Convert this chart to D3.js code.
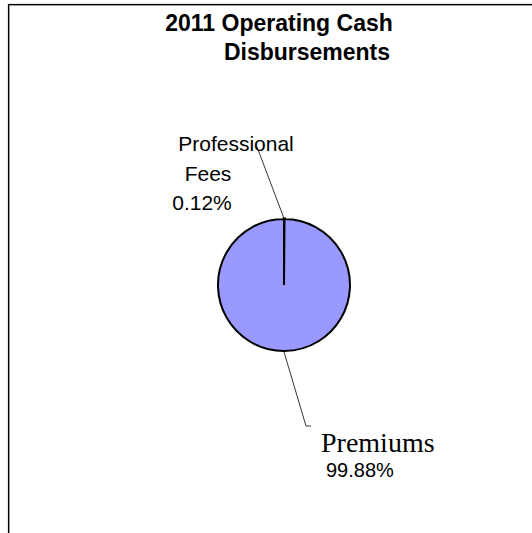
<!DOCTYPE html>
<html>
<head>
<meta charset="utf-8">
<script src="https://cdn.jsdelivr.net/npm/d3@7.9.0/dist/d3.min.js"></script>
<style>
  html, body { margin: 0; padding: 0; background: #fff; }
  svg { display: block; }
</style>
</head>
<body>
<svg id="chart" width="532" height="533"></svg>
<script>
// data
const titleLines = ['2011 Operating Cash', 'Disbursements'];
const categories = ['Professional Fees', 'Premiums'];
const shares = [0.12, 99.88];
const shareLabels = ['0.12%', '99.88%'];

const svg = d3.select('#chart');
const cx = 284, cy = 285, radius = 66;

// frame (only top and left edges show)
svg.append('rect').attr('x', 8.5).attr('y', 4.5).attr('width', 700).attr('height', 700)
  .attr('fill', 'none').attr('stroke', '#000').attr('stroke-width', 1.2);
svg.append('rect').attr('x', 9.5).attr('y', 5.5).attr('width', 700).attr('height', 700)
  .attr('fill', 'none').attr('stroke', '#999').attr('stroke-width', 1);

// title, each line centred on its own
const titleX = [279, 307];
titleLines.forEach((t, i) => {
  svg.append('text')
    .attr('x', titleX[i]).attr('y', 31 + i * 29)
    .attr('text-anchor', 'middle')
    .attr('font-family', 'Liberation Sans, Arial, sans-serif')
    .attr('font-weight', 'bold').attr('font-size', 23)
    .text(t);
});

const pie = d3.pie().sort(null).value((d) => d.value);
const arcs = pie(categories.map((c, i) => ({ label: c, value: shares[i] })));
const arc = d3.arc().innerRadius(0).outerRadius(radius);
const edge = d3.arc().innerRadius(radius).outerRadius(radius);

const g = svg.append('g').attr('transform', `translate(${cx},${cy})`);
g.selectAll('path.slice')
  .data(arcs)
  .join('path')
  .attr('class', 'slice')
  .attr('d', arc)
  .attr('fill', '#9999ff')
  .attr('stroke', '#000')
  .attr('stroke-width', (d, i) => i === 0 ? 3 : 2)
  .attr('stroke-linejoin', 'miter');

// leader lines: from the pie edge to the label
const leaderEnds = [[-27, -138], [22, 141]];
arcs.forEach((d, i) => {
  const [ex, ey] = edge.centroid(d);
  const pts = [[ex, ey], leaderEnds[i]];
  if (i === 1) pts.push([leaderEnds[i][0] + 5, leaderEnds[i][1]]);
  g.append('path')
    .attr('d', d3.line()(pts))
    .attr('fill', 'none').attr('stroke', '#000').attr('stroke-width', 0.8);
});

// Professional Fees label
const sans = 'Liberation Sans, Arial, sans-serif';
[['Professional', 236, 151], ['Fees', 208, 181], [shareLabels[0], 202, 210]].forEach(([t, x, y]) => {
  svg.append('text').attr('x', x).attr('y', y)
    .attr('text-anchor', 'middle')
    .attr('font-family', sans).attr('font-size', 21)
    .attr('fill', '#000')
    .text(t);
});

// Premiums label
svg.append('text').attr('x', 321).attr('y', 452)
  .attr('font-family', 'Liberation Serif, Times New Roman, serif')
  .attr('font-size', 28).attr('fill', '#000')
  .text(categories[1]);
svg.append('text').attr('x', 326).attr('y', 477)
  .attr('font-family', sans).attr('font-size', 20)
  .attr('fill', '#000')
  .text(shareLabels[1]);
</script>
</body>
</html>
